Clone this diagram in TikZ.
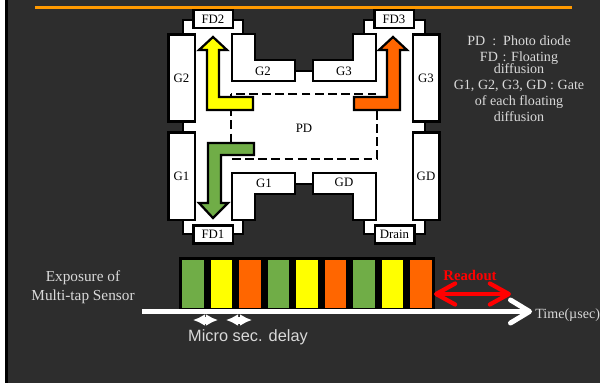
\documentclass[tikz,border=0pt]{standalone}
\usepackage{fontspec}
\setmainfont{Liberation Serif}
\newfontfamily\delayfont{Liberation Sans}
\usetikzlibrary{arrows.meta}

\definecolor{slidebg}{HTML}{2D2D2D}
\definecolor{topline}{HTML}{FF9900}
\definecolor{tapgreen}{HTML}{70AD47}
\definecolor{tapyellow}{HTML}{FFFF00}
\definecolor{taporange}{HTML}{FF6600}
\definecolor{lblgray}{HTML}{D9D9D9}

\begin{document}
\begin{tikzpicture}[
  x=0.02cm, y=-0.02cm,
  pixel/.style={line width=0.05cm, draw=black, fill=white, line join=miter},
  gatebar/.style={pixel, minimum width=0.53cm, minimum height=1.75cm,
              inner sep=0pt, font=\fontsize{7.3}{9}\selectfont},
  fdbox/.style={pixel, minimum width=0.79cm, minimum height=0.36cm,
              inner sep=0pt, font=\fontsize{7.3}{9}\selectfont},
  lbl/.style={inner sep=0pt, font=\fontsize{7.3}{9}\selectfont},
  transfer/.style={pixel, line width=0.045cm},
  side/.style={inner sep=0pt, text=lblgray, align=center,
              font=\fontsize{8}{9}\selectfont},
  expbar/.style={draw=black, line width=0.07cm, minimum width=0.5cm,
              minimum height=1.03cm, inner sep=0pt},
  timearr/.style={-{Straight Barb[length=0.38cm,width=0.46cm,round]},
              line width=0.1cm, white},
  readarr/.style={{Straight Barb[length=0.38cm,width=0.42cm,round]}-{Straight Barb[length=0.38cm,width=0.42cm,round]},
              line width=0.085cm, red},
  delayarr/.style={{Latex[length=0.24cm,width=0.24cm]}-{Latex[length=0.24cm,width=0.24cm]},
              line width=0.14cm, white},
]

% slide
\useasboundingbox (0,0) rectangle (601,383);
\fill[white] (0,0) rectangle (601,383);
\fill[black] (5,0) rectangle (8,383);
\fill[slidebg] (8,0) rectangle (600,383);
\fill[topline] (35,5.5) rectangle (572,8.5);

% sensor body
\draw[pixel] (183,20) -- (243,20) -- (243,71) -- (364,71) -- (364,20) -- (425,20)
  -- (425,234) -- (364,234) -- (364,184) -- (243,184) -- (243,234) -- (183,234) -- cycle;

\node[gatebar] (g2bar) at (181.5,78) {G2};
\node[gatebar] (g1bar) at (181.5,176) {G1};
\node[gatebar] (g3bar) at (426,78) {G3};
\node[gatebar] (gdbar) at (426,176) {GD};

\node[fdbox] (fd2) at (213,19) {FD2};
\node[fdbox] (fd3) at (394,19) {FD3};
\node[fdbox] (fd1) at (213,234.5) {FD1};
\node[fdbox] (drain) at (394.5,234.5) {Drain};

% L shaped gates
\draw[pixel] (232,34) -- (255,34) -- (255,60) -- (295,60) -- (295,81) -- (232,81) -- cycle;
\draw[pixel] (313,60) -- (353,60) -- (353,34) -- (376,34) -- (376,81) -- (313,81) -- cycle;
\draw[pixel] (232,173) -- (295,173) -- (295,194) -- (255,194) -- (255,220) -- (232,220) -- cycle;
\draw[pixel] (313,173) -- (376,173) -- (376,220) -- (353,220) -- (353,194) -- (313,194) -- cycle;
\node[lbl] (g2lbl) at (263,71) {G2};
\node[lbl] (g3lbl) at (344,71) {G3};
\node[lbl] (g1lbl) at (264,183) {G1};
\node[lbl] (gdlbl) at (344,182) {GD};

% PD
\draw[line width=0.04cm, dashed, dash pattern=on 5pt off 2.5pt] (231,94) rectangle (377,159);
\node[lbl] (pd) at (304,128) {PD};

% transfer arrows
\draw[transfer, fill=tapyellow] (213,37) -- (227,50) -- (219,50) -- (219,97) -- (253,97) -- (253,110)
  -- (207,110) -- (207,50) -- (199,50) -- cycle;
\draw[transfer, fill=taporange] (393,37) -- (407,50) -- (400,50) -- (400,110) -- (354,110) -- (354,97)
  -- (387,97) -- (387,50) -- (379,50) -- cycle;
\draw[transfer, fill=tapgreen] (213,218) -- (199,203) -- (208,203) -- (208,143) -- (254,143) -- (254,155)
  -- (221,155) -- (221,203) -- (228,203) -- cycle;

% legend
\node[side] (legend) at (519,78.5) {PD\,\,\,:\,\,\,Photo diode\\FD\,\,:\,\,Floating\\[-2pt]diffusion\\G1, G2, G3, GD : Gate\\of each floating\\diffusion};

% exposure
\foreach \i/\c in {0/tapgreen,1/tapyellow,2/taporange,3/tapgreen,4/tapyellow,5/taporange,6/tapgreen,7/tapyellow,8/taporange}
  \node[expbar, fill=\c] (bar\i) at ({192.8+28.5*\i},284) {};

\coordinate (axisstart) at (142,311.5);
\coordinate (axisend) at (532,311.5);
\draw[timearr] (axisstart) -- (axisend);
\node[side, anchor=west] (timelbl) at (535,315) {Time(µsec)};
\node[side, font=\fontsize{8.7}{10.8}\selectfont] (explbl) at (83,287.5) {Exposure of\\Multi-tap Sensor};

\coordinate (readl) at (434,294);
\coordinate (readr) at (511,294);
\draw[readarr] (readl) -- (readr);
\node[inner sep=0pt, text=red, font=\fontsize{8.4}{9}\bfseries\selectfont] (readlbl) at (470,275) {Readout};

\coordinate (d1a) at (193,320);
\coordinate (d1b) at (218,320);
\coordinate (d2a) at (226,320);
\coordinate (d2b) at (252,320);
\draw[delayarr] (d1a) -- (d1b);
\draw[delayarr] (d2a) -- (d2b);
\node[inner sep=0pt, text=lblgray, font=\delayfont\fontsize{9.3}{11}\selectfont] (delaylbl) at (248,337) {Micro sec. delay};

\end{tikzpicture}
\end{document}
